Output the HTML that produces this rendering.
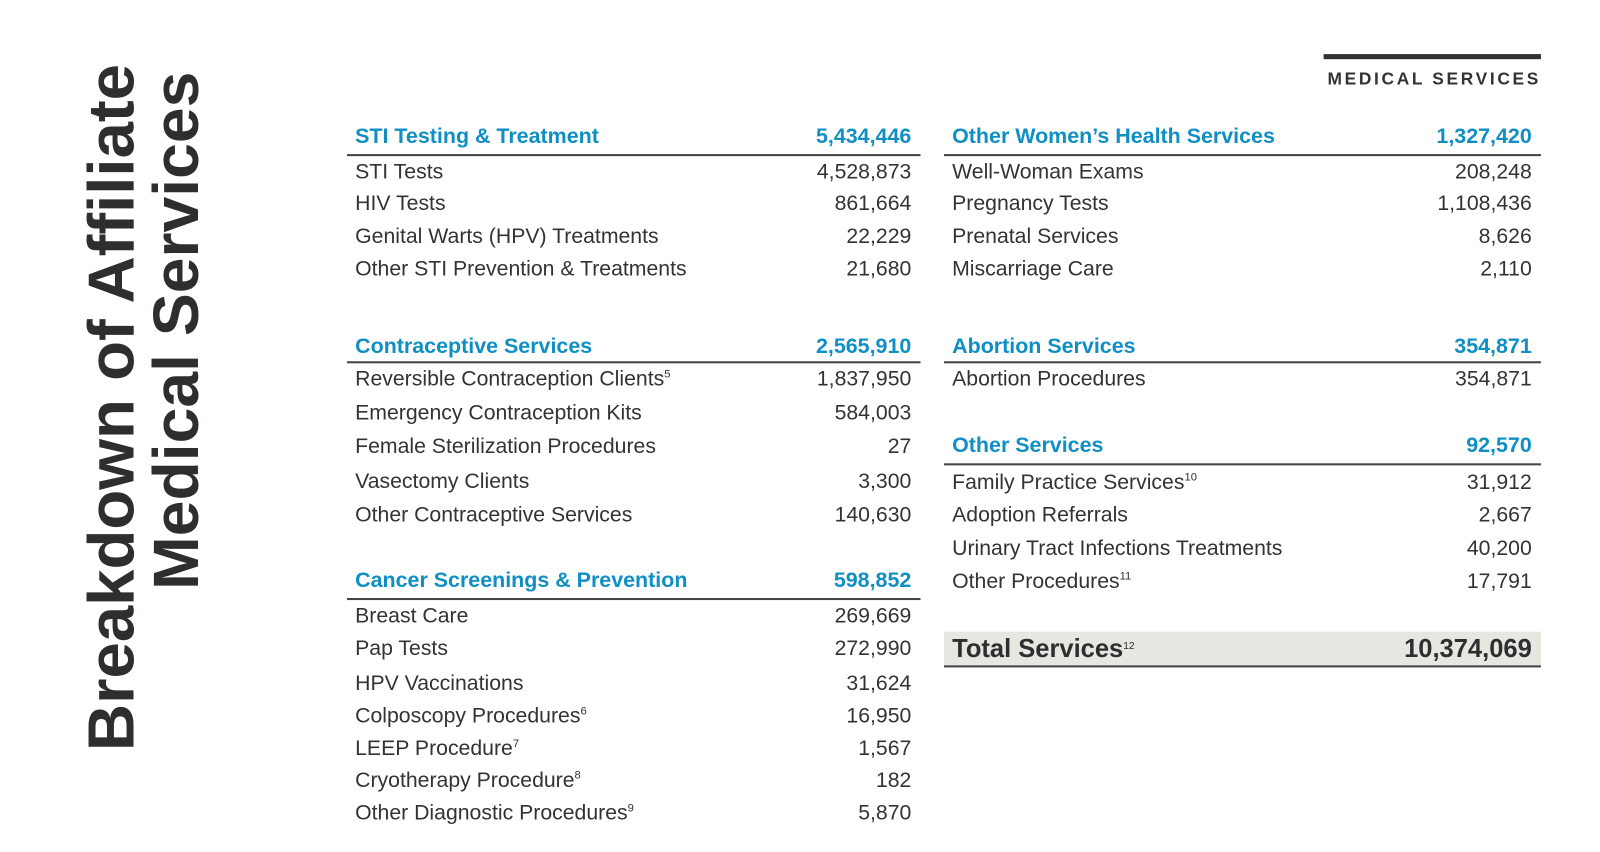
<!DOCTYPE html>
<html><head><meta charset="utf-8"><style>
body{margin:0;width:1600px;height:835px;background:#fff;position:relative;overflow:hidden;font-family:"Liberation Sans",sans-serif;color:#333}
#w{position:absolute;left:0;top:0;width:1600px;height:835px;transform:scale(1.0205);transform-origin:0 0}
.t{position:absolute;height:26px;line-height:26px;font-size:20.8px;white-space:nowrap}
.l{left:348px}.r{right:707px;text-align:right}
.l2{left:933px}.r2{right:99px;text-align:right}
.h{font-weight:bold;color:#0f8fc3;font-size:21px}
.ln{position:absolute;height:2px;background:#444}
.a{left:340px;width:562px}.b{left:925px;width:585px}
sup{font-size:11px;vertical-align:8px;line-height:0}
#title{position:absolute;left:77px;top:70px;height:666px;width:128px;writing-mode:vertical-rl;transform:rotate(180deg);text-align:end;font-weight:bold;line-height:64px;color:#2d2e30;white-space:nowrap}
</style></head><body><div id="w">
<div id="title"><span style="font-size:64px">Breakdown of Affiliate</span><br><span style="font-size:63px">Medical Services</span></div>
<div style="position:absolute;left:1297px;top:53px;width:213px;height:5px;background:#333"></div>
<div style="position:absolute;right:90px;top:66px;font-weight:bold;font-size:17px;letter-spacing:2.6px;line-height:24px;color:#333">MEDICAL SERVICES</div>

<div class="t l h" style="top:121px">STI Testing &amp; Treatment</div><div class="t r h" style="top:121px">5,434,446</div>
<div class="ln a" style="top:151px"></div>
<div class="t l" style="top:156px">STI Tests</div><div class="t r" style="top:156px">4,528,873</div>
<div class="t l" style="top:187px">HIV Tests</div><div class="t r" style="top:187px">861,664</div>
<div class="t l" style="top:219px">Genital Warts (HPV) Treatments</div><div class="t r" style="top:219px">22,229</div>
<div class="t l" style="top:251px">Other STI Prevention &amp; Treatments</div><div class="t r" style="top:251px">21,680</div>

<div class="t l h" style="top:327px">Contraceptive Services</div><div class="t r h" style="top:327px">2,565,910</div>
<div class="ln a" style="top:354px"></div>
<div class="t l" style="top:359px">Reversible Contraception Clients<sup>5</sup></div><div class="t r" style="top:359px">1,837,950</div>
<div class="t l" style="top:392px">Emergency Contraception Kits</div><div class="t r" style="top:392px">584,003</div>
<div class="t l" style="top:425px">Female Sterilization Procedures</div><div class="t r" style="top:425px">27</div>
<div class="t l" style="top:459px">Vasectomy Clients</div><div class="t r" style="top:459px">3,300</div>
<div class="t l" style="top:492px">Other Contraceptive Services</div><div class="t r" style="top:492px">140,630</div>

<div class="t l h" style="top:556px">Cancer Screenings &amp; Prevention</div><div class="t r h" style="top:556px">598,852</div>
<div class="ln a" style="top:586px"></div>
<div class="t l" style="top:591px">Breast Care</div><div class="t r" style="top:591px">269,669</div>
<div class="t l" style="top:623px">Pap Tests</div><div class="t r" style="top:623px">272,990</div>
<div class="t l" style="top:657px">HPV Vaccinations</div><div class="t r" style="top:657px">31,624</div>
<div class="t l" style="top:689px">Colposcopy Procedures<sup>6</sup></div><div class="t r" style="top:689px">16,950</div>
<div class="t l" style="top:721px">LEEP Procedure<sup>7</sup></div><div class="t r" style="top:721px">1,567</div>
<div class="t l" style="top:752px">Cryotherapy Procedure<sup>8</sup></div><div class="t r" style="top:752px">182</div>
<div class="t l" style="top:784px">Other Diagnostic Procedures<sup>9</sup></div><div class="t r" style="top:784px">5,870</div>

<div class="t l2 h" style="top:121px">Other Women’s Health Services</div><div class="t r2 h" style="top:121px">1,327,420</div>
<div class="ln b" style="top:151px"></div>
<div class="t l2" style="top:156px">Well-Woman Exams</div><div class="t r2" style="top:156px">208,248</div>
<div class="t l2" style="top:187px">Pregnancy Tests</div><div class="t r2" style="top:187px">1,108,436</div>
<div class="t l2" style="top:219px">Prenatal Services</div><div class="t r2" style="top:219px">8,626</div>
<div class="t l2" style="top:251px">Miscarriage Care</div><div class="t r2" style="top:251px">2,110</div>

<div class="t l2 h" style="top:327px">Abortion Services</div><div class="t r2 h" style="top:327px">354,871</div>
<div class="ln b" style="top:354px"></div>
<div class="t l2" style="top:359px">Abortion Procedures</div><div class="t r2" style="top:359px">354,871</div>

<div class="t l2 h" style="top:424px">Other Services</div><div class="t r2 h" style="top:424px">92,570</div>
<div class="ln b" style="top:454px"></div>
<div class="t l2" style="top:460px">Family Practice Services<sup>10</sup></div><div class="t r2" style="top:460px">31,912</div>
<div class="t l2" style="top:492px">Adoption Referrals</div><div class="t r2" style="top:492px">2,667</div>
<div class="t l2" style="top:525px">Urinary Tract Infections Treatments</div><div class="t r2" style="top:525px">40,200</div>
<div class="t l2" style="top:557px">Other Procedures<sup>11</sup></div><div class="t r2" style="top:557px">17,791</div>

<div style="position:absolute;left:925px;top:619px;width:585px;height:33px;background:#e8e6e1"></div>
<div class="ln b" style="top:652px"></div>
<div class="t l2" style="top:623px;font-weight:bold;font-size:25px;color:#2d2e30">Total Services<sup style="font-weight:normal;font-size:10px">12</sup></div>
<div class="t r2" style="top:623px;font-weight:bold;font-size:25px;color:#2d2e30">10,374,069</div>
</div></body></html>
